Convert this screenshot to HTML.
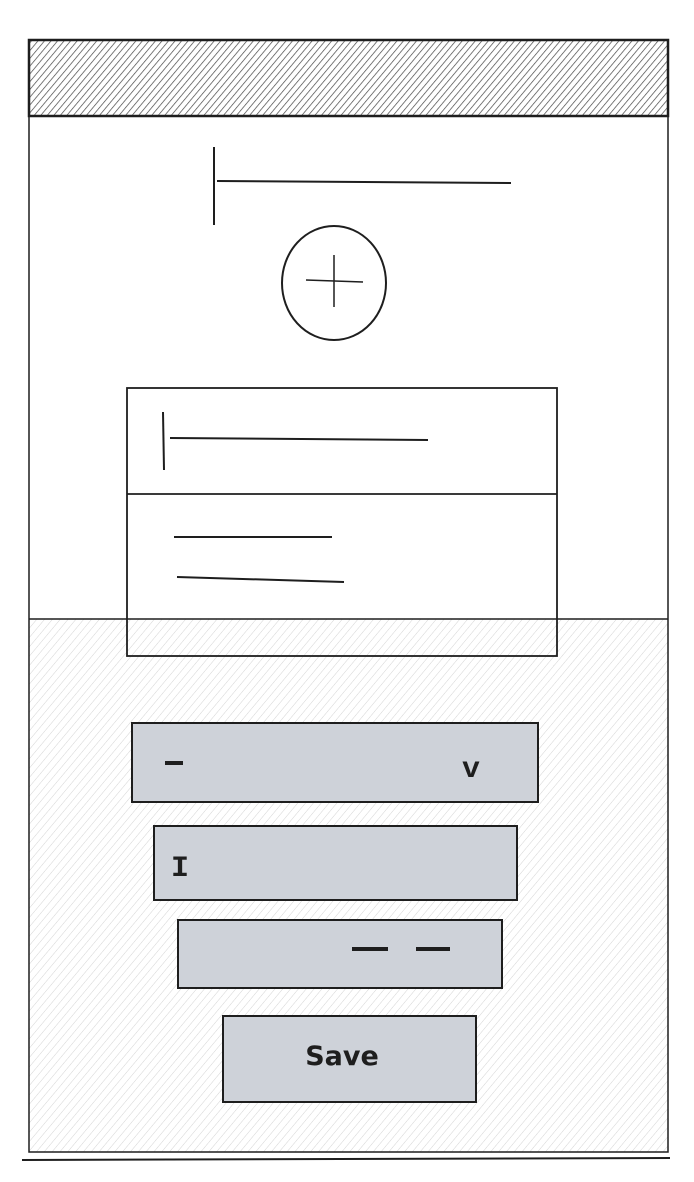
<!DOCTYPE html>
<html><head><style>body{margin:0;background:#fff}svg{display:block}</style></head><body>
<svg width="694" height="1182" viewBox="0 0 694 1182" xmlns="http://www.w3.org/2000/svg">
<defs>
<pattern id="h1" width="5" height="5" patternUnits="userSpaceOnUse" patternTransform="rotate(40)">
<line x1="0" y1="0" x2="0" y2="5" stroke="#444" stroke-width="1.4"/></pattern>
<pattern id="h2" width="6" height="6" patternUnits="userSpaceOnUse" patternTransform="rotate(40)">
<line x1="0" y1="0" x2="0" y2="6" stroke="#cfcfcf" stroke-width="0.9"/></pattern>
</defs>
<rect x="29" y="40" width="639" height="76" fill="url(#h1)"/>
<rect x="29" y="619" width="639" height="533" fill="url(#h2)"/>
<g fill="none" stroke="#1e1e1e">
<rect x="29" y="40" width="639" height="1112" stroke-width="1.5"/>
<rect x="29" y="40" width="639" height="76" stroke-width="2.5"/>
<line x1="29" y1="619" x2="668" y2="619" stroke-width="1.5"/>
<line x1="22" y1="1160" x2="670" y2="1158" stroke-width="2"/>
<line x1="214" y1="147" x2="214" y2="225" stroke-width="2"/>
<line x1="217" y1="181" x2="511" y2="183" stroke-width="2"/>
<ellipse cx="334" cy="283" rx="52" ry="57" stroke-width="2"/>
<line x1="334" y1="255" x2="334" y2="307" stroke-width="1.5"/>
<line x1="306" y1="280" x2="363" y2="282" stroke-width="1.5"/>
<rect x="127" y="388" width="430" height="268" stroke-width="1.8"/>
<line x1="127" y1="494" x2="557" y2="494" stroke-width="1.8"/>
<line x1="163" y1="412" x2="164" y2="470" stroke-width="2"/>
<line x1="170" y1="438" x2="428" y2="440" stroke-width="2"/>
<line x1="174" y1="537" x2="332" y2="537" stroke-width="2"/>
<line x1="177" y1="577" x2="344" y2="582" stroke-width="2"/>
</g>
<g fill="#ced2d9" stroke="#1e1e1e" stroke-width="2">
<rect x="132" y="723" width="406" height="79"/>
<rect x="154" y="826" width="363" height="74"/>
<rect x="178" y="920" width="324" height="68"/>
<rect x="223" y="1016" width="253" height="86"/>
</g>
<g fill="#1e1e1e">
<rect x="165" y="761" width="18" height="4"/>
<rect x="352" y="947" width="36" height="4"/>
<rect x="416" y="947" width="34" height="4"/>
</g>
<g font-family="Liberation Mono, monospace" font-size="30" font-weight="bold" fill="#1e1e1e">
<text x="462" y="777">v</text>
<text x="171" y="876">I</text>
</g>
<text x="342" y="1065" font-family="DejaVu Sans, sans-serif" font-size="27" font-weight="bold" text-anchor="middle" fill="#1e1e1e">Save</text>
</svg>
</body></html>
